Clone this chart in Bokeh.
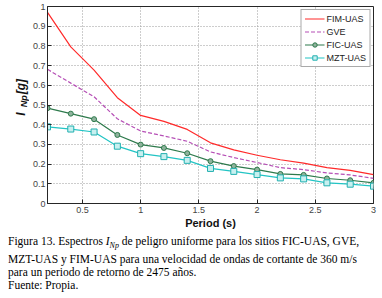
import math
from bokeh.plotting import figure
from bokeh.models import Range1d, Label, Legend, LegendItem, FixedTicker, Div
from bokeh.layouts import column, row
from bokeh.embed import file_html
from bokeh.resources import INLINE

period = [0.2, 0.4, 0.6, 0.8, 1.0, 1.2, 1.4, 1.6, 1.8, 2.0, 2.2, 2.4, 2.6, 2.8, 3.0]
fim_uas = [0.97, 0.795, 0.677, 0.537, 0.447, 0.417, 0.376, 0.308, 0.272, 0.245, 0.222, 0.205, 0.182, 0.168, 0.147]
gve = [0.681, 0.611, 0.542, 0.430, 0.368, 0.343, 0.316, 0.262, 0.233, 0.208, 0.182, 0.172, 0.155, 0.145, 0.128]
fic_uas = [0.484, 0.456, 0.428, 0.348, 0.299, 0.282, 0.255, 0.215, 0.190, 0.172, 0.150, 0.145, 0.127, 0.118, 0.105]
mzt_uas = [0.389, 0.378, 0.363, 0.291, 0.253, 0.238, 0.219, 0.178, 0.163, 0.147, 0.130, 0.125, 0.105, 0.098, 0.088]
x_ticks = [0.5, 1.0, 1.5, 2.0, 2.5, 3.0]
y_ticks = [0.0, 0.1, 0.2, 0.3, 0.4, 0.5, 0.6, 0.7, 0.8, 0.9, 1.0]
x_label = "Period (s)"
y_label_main, y_label_sub, y_label_unit = "I", "Np", "[g]"
caption_html = ("Figura 13. Espectros <i>I<sub style='font-size:8px'>Np</sub></i> de peligro uniforme para los sitios FIC-UAS, GVE,<br>"
                "MZT-UAS y FIM-UAS para una velocidad de ondas de cortante de 360 m/s<br>"
                "para un periodo de retorno de 2475 años.<br>"
                "Fuente: Propia.")

H = 231
LW = 29            # width of the strip holding the rotated y-axis label
W = 382 - LW
L, R, T, B = 46 - LW, 9, 6, 22

p = figure(width=W, height=H, output_backend="svg", toolbar_location=None,
           x_range=Range1d(0.2, 3.0), y_range=Range1d(0, 1),
           min_border_left=L, min_border_right=R, min_border_top=T, min_border_bottom=B)
p.background_fill_color = "white"
p.border_fill_color = "white"
p.outline_line_color = "#262626"
p.outline_line_width = 1

for ax in (p.xaxis, p.yaxis):
    ax.major_tick_in = 4
    ax.major_tick_out = 0
    ax.minor_tick_in = 0
    ax.minor_tick_out = 0
    ax.axis_line_color = "#262626"
    ax.major_tick_line_color = "#262626"
    ax.major_label_text_font = "Liberation Sans"
    ax.major_label_text_font_size = "9px"
    ax.major_label_text_color = "#444444"
    ax.major_label_standoff = 3
p.yaxis.major_label_standoff = 2

p.xaxis.ticker = FixedTicker(ticks=x_ticks)
p.yaxis.ticker = FixedTicker(ticks=y_ticks)
p.xaxis.major_label_overrides = {t: (str(int(t)) if t == int(t) else str(t)) for t in x_ticks}
p.yaxis.major_label_overrides = {t: (str(int(t)) if t == int(t) else str(t)) for t in y_ticks}
p.xaxis.axis_label = x_label
p.xaxis.axis_label_text_font = "Liberation Sans"
p.xaxis.axis_label_text_font_size = "11px"
p.xaxis.axis_label_text_font_style = "bold"
p.xaxis.axis_label_text_color = "#111111"
p.xaxis.axis_label_standoff = 1

p.grid.grid_line_color = "#9a9a9a"
p.grid.grid_line_dash = "1 2"
p.grid.grid_line_width = 1
p.xgrid.ticker = FixedTicker(ticks=x_ticks)
p.ygrid.ticker = FixedTicker(ticks=y_ticks)

r1 = p.line(period, fim_uas, line_color="#ff2a2a", line_width=1.2)
r2 = p.line(period, gve, line_color="#b64fb6", line_width=1.2, line_dash="4 2")
r3 = p.line(period, fic_uas, line_color="#2e7a4c", line_width=1.2)
r3m = p.scatter(period, fic_uas, marker="circle", size=5, line_color="#2e7a4c", fill_color="#8fb39d", line_width=1)
r4 = p.line(period, mzt_uas, line_color="#22c4c4", line_width=1.2)
r4m = p.scatter(period, mzt_uas, marker="square", size=6, line_color="#22b0b0", fill_color="#c8f0f0", line_width=1)

legend = Legend(items=[
    LegendItem(label="FIM-UAS", renderers=[r1]),
    LegendItem(label="GVE", renderers=[r2]),
    LegendItem(label="FIC-UAS", renderers=[r3, r3m]),
    LegendItem(label="MZT-UAS", renderers=[r4, r4m]),
], location="top_right")
legend.label_text_font = "Liberation Sans"
legend.label_text_font_size = "9px"
legend.label_text_color = "#222222"
legend.label_height = 11
legend.glyph_height = 11
legend.glyph_width = 20
legend.label_standoff = 2
legend.spacing = 2
legend.padding = 3
legend.margin = 3
legend.border_line_color = "#555555"
legend.border_line_width = 1
legend.background_fill_alpha = 1
p.add_layout(legend)

# narrow strip figure carrying the rotated y-axis label  I_Np [g]
q = figure(width=LW, height=H, output_backend="svg", toolbar_location=None,
           x_range=Range1d(0, LW), y_range=Range1d(0, H),
           min_border=0, min_border_left=0, min_border_right=0,
           min_border_top=0, min_border_bottom=0)
q.axis.visible = False
q.grid.visible = False
q.outline_line_color = None
q.background_fill_color = "white"
q.border_fill_color = "white"

lab_style = dict(text_font="Liberation Sans", text_font_style="bold italic",
                 angle=math.pi / 2, text_align="left", text_baseline="alphabetic",
                 text_color="#111111")
q.add_layout(Label(x=20, y=H - 128, text=y_label_main, text_font_size="12px", **lab_style))
q.add_layout(Label(x=23, y=H - 118, text=y_label_sub, text_font_size="9px", **lab_style))
q.add_layout(Label(x=20, y=H - 103, text=y_label_unit, text_font_size="12px", **lab_style))

div = Div(text=caption_html, width=382, height=67, margin=(4, 0, 0, 8),
          styles={"font-family": "'Liberation Serif', serif", "font-size": "11.5px",
                  "line-height": "13.3px", "color": "#000000"})

layout = column(row(q, p, spacing=0), div, spacing=0)
open("out.html", "w").write(file_html(layout, INLINE))
